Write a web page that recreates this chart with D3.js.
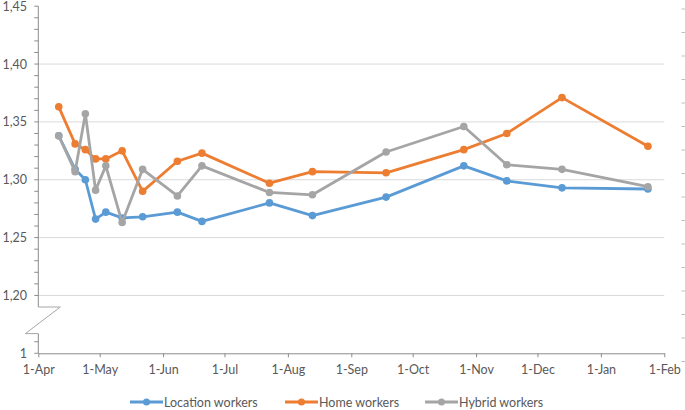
<!DOCTYPE html>
<html>
<head>
<meta charset="utf-8">
<script src="https://cdn.jsdelivr.net/npm/d3@7.9.0/dist/d3.min.js"></script>
<style>
  body { margin: 0; background: #fff; }
  svg { display: block; font-family: Lato, "Open Sans", sans-serif; }
  .tick-label { fill: #595959; font-size: 12.5px; }
  .legend-text { fill: #595959; font-size: 12.5px; }
</style>
</head>
<body>
<svg width="685" height="410"></svg>
<script>
// 1. Data (survey dates, mean score per group)
const dates = [
  "2020-04-11", "2020-04-19", "2020-04-24", "2020-04-29", "2020-05-04",
  "2020-05-12", "2020-05-22", "2020-06-08", "2020-06-20", "2020-07-23",
  "2020-08-13", "2020-09-18", "2020-10-26", "2020-11-16", "2020-12-13",
  "2021-01-24"
];
const locationWorkers = [1.338, 1.309, 1.300, 1.266, 1.272, 1.267, 1.268, 1.272, 1.264, 1.280, 1.269, 1.285, 1.312, 1.299, 1.293, 1.292];
const homeWorkers     = [1.363, 1.331, 1.326, 1.318, 1.318, 1.325, 1.290, 1.316, 1.323, 1.297, 1.307, 1.306, 1.326, 1.340, 1.371, 1.329];
const hybridWorkers   = [1.338, 1.307, 1.357, 1.291, 1.312, 1.263, 1.309, 1.286, 1.312, 1.289, 1.287, 1.324, 1.346, 1.313, 1.309, 1.294];

const seriesNames = ["Location workers", "Home workers", "Hybrid workers"];
const seriesColors = ["#5b9bd5", "#ed7d31", "#a5a5a5"];

// y axis is broken: bottom value is shown as "1"
const yTicks = [1.15, 1.20, 1.25, 1.30, 1.35, 1.40, 1.45];
const yTickLabels = ["1", "1,20", "1,25", "1,30", "1,35", "1,40", "1,45"];
const xStart = "2020-04-01";
const xEnd = "2021-02-01";

// 2. Scales
const parse = d3.timeParse("%Y-%m-%d");
const svg = d3.select("svg");

const plotLeft = 38.3, plotRight = 664.3, plotTop = 6.2, plotBottom = 353.3;
const x = d3.scaleTime().domain([parse(xStart), parse(xEnd)]).range([plotLeft, plotRight]);
const y = d3.scaleLinear().domain([1.15, 1.45]).range([plotBottom, plotTop]);

// break sits between these two values
const breakHi = 1.19, breakLo = 1.167;

// 3. Gridlines
svg.append("g")
  .selectAll("line")
  .data(yTicks.filter(v => v > 1.15 && v < 1.45))
  .join("line")
  .attr("x1", plotLeft).attr("x2", plotRight)
  .attr("y1", d => y(d)).attr("y2", d => y(d))
  .attr("stroke", "#d9d9d9").attr("stroke-width", 1);

// 4. Y axis: line, minor ticks, labels, break mark
const axisColor = "#8c8c8c";
svg.append("line")
  .attr("x1", plotLeft).attr("x2", plotLeft)
  .attr("y1", plotTop).attr("y2", y(breakHi))
  .attr("stroke", axisColor);
svg.append("line")
  .attr("x1", plotLeft).attr("x2", plotLeft)
  .attr("y1", y(breakLo)).attr("y2", plotBottom)
  .attr("stroke", axisColor);

let minor = d3.range(115, 146).map(d => d / 100)
  .filter(v => v > breakHi + 0.001 || v < breakLo);
svg.append("g")
  .selectAll("line")
  .data(minor)
  .join("line")
  .attr("x1", plotLeft - 4).attr("x2", plotLeft)
  .attr("y1", d => y(d)).attr("y2", d => y(d))
  .attr("stroke", axisColor);

svg.append("g")
  .selectAll("text")
  .data(yTicks)
  .join("text")
  .attr("class", "tick-label")
  .attr("x", 27)
  .attr("y", d => y(d) + 4.5)
  .attr("text-anchor", "end")
  .text((d, i) => yTickLabels[i]);

// zig-zag break symbol
svg.append("path")
  .attr("d", `M${plotLeft},${y(breakHi)} H${plotLeft + 22} L${plotLeft - 13},${y(breakLo)} H${plotLeft}`)
  .attr("fill", "none")
  .attr("stroke", "#a6a6a6")
  .attr("stroke-width", 1);

// 5. X axis
const xAxis = d3.axisBottom(x)
  .ticks(d3.timeMonth.every(1))
  .tickFormat(d3.timeFormat("%-d-%b"))
  .tickSizeOuter(0)
  .tickSizeInner(4)
  .tickPadding(8);

const gx = svg.append("g")
  .attr("transform", `translate(0,${plotBottom})`)
  .call(xAxis);
gx.attr("font-family", null).attr("font-size", null);
gx.select(".domain").attr("stroke", axisColor);
gx.selectAll(".tick line").attr("stroke", axisColor);
gx.selectAll(".tick text").attr("class", "tick-label");

// faint ticks on the far right edge (cut-off secondary axis)
svg.append("g")
  .selectAll("line")
  .data(d3.range(-4, 12))
  .join("line")
  .attr("x1", 681.5).attr("x2", 685)
  .attr("y1", d => 103 + d * 23.5).attr("y2", d => 103 + d * 23.5)
  .attr("stroke", "#bfbfbf");

// 6. Series lines and markers
const allSeries = [locationWorkers, homeWorkers, hybridWorkers];
const line = d3.line()
  .x((d, i) => x(parse(dates[i])))
  .y(d => y(d));

allSeries.forEach((values, idx) => {
  svg.append("path")
    .datum(values)
    .attr("d", line)
    .attr("fill", "none")
    .attr("stroke", seriesColors[idx])
    .attr("stroke-width", 2.8)
    .attr("stroke-linejoin", "round");

  svg.append("g")
    .selectAll("circle")
    .data(values)
    .join("circle")
    .attr("cx", (d, i) => x(parse(dates[i])))
    .attr("cy", d => y(d))
    .attr("r", 3.8)
    .attr("fill", seriesColors[idx]);
});

// 7. Legend
const legendX = [130, 285, 425];
const legendY = 402;
seriesNames.forEach((name, idx) => {
  const g = svg.append("g").attr("transform", `translate(${legendX[idx]},${legendY})`);
  g.append("line")
    .attr("x1", 0).attr("x2", 33)
    .attr("stroke", seriesColors[idx])
    .attr("stroke-width", 2.8);
  g.append("circle")
    .attr("cx", 16.5).attr("r", 3.5)
    .attr("fill", seriesColors[idx]);
  g.append("text")
    .attr("class", "legend-text")
    .attr("x", 34)
    .attr("y", 4.5)
    .attr("text-anchor", "start")
    .text(name);
});
</script>
</body>
</html>
